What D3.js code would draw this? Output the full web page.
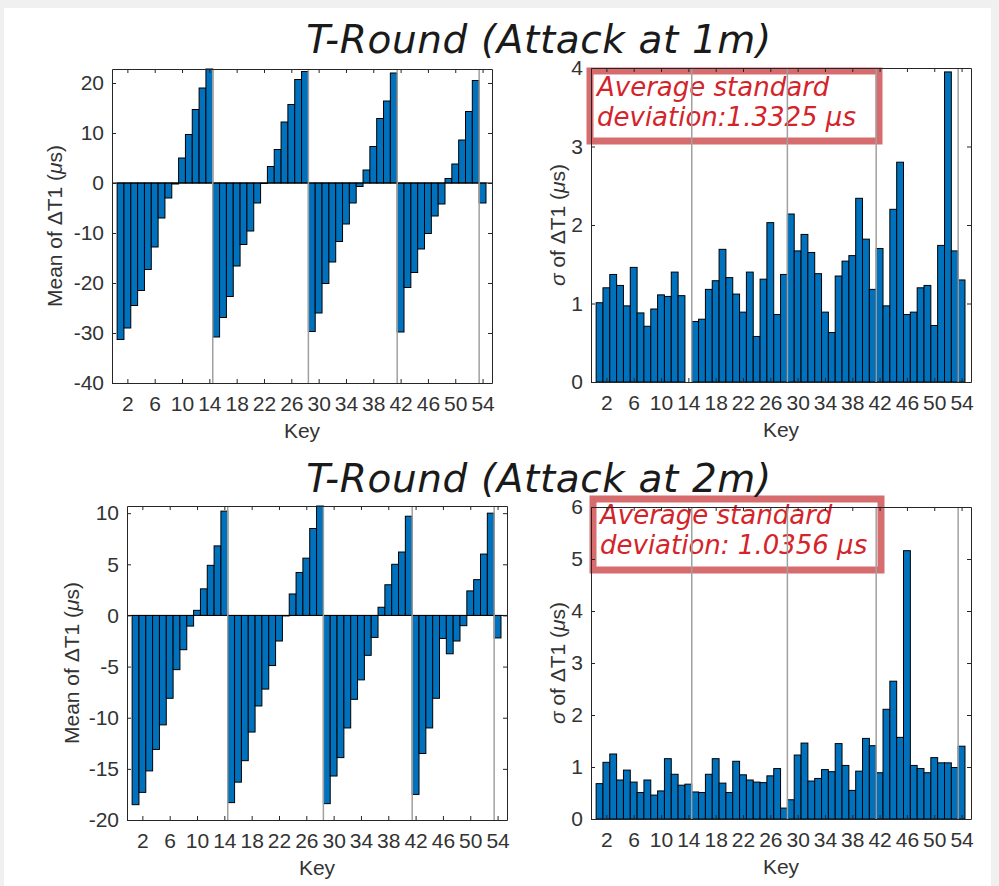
<!DOCTYPE html>
<html>
<head>
<meta charset="utf-8">
<script src="https://cdn.jsdelivr.net/npm/d3@7"></script>
<style>
  body { margin: 0; background: #f0f0f0; }
  svg { display: block; }
</style>
</head>
<body>
<svg id="chart" width="999" height="886"></svg>
<script>
// ---- DATA ----
const keys = d3.range(1, 55)
const xTicks = [2, 6, 10, 14, 18, 22, 26, 30, 34, 38, 42, 46, 50, 54]
const groupBreaks = [14.5, 28.5, 41.5, 53.5]

const mean1m = [-31.3, -29.0, -24.5, -21.5, -17.3, -12.8, -7.0, -3.0, -0.2, 5.0, 9.7, 14.7, 19.0, 22.8,
  -30.8, -26.9, -22.7, -16.6, -12.3, -9.6, -4.0, -0.1, 3.3, 6.7, 12.2, 15.7, 20.7, 22.3,
  -29.7, -26.0, -20.1, -15.8, -11.7, -8.2, -4.0, -0.7, 2.6, 7.3, 12.9, 16.4, 22.0,
  -29.8, -20.9, -17.9, -13.2, -10.1, -6.6, -4.2, 0.9, 3.8, 8.6, 14.3, 20.5,
  -4.0]
const sigma1m = [1.01, 1.20, 1.37, 1.23, 0.97, 1.46, 0.88, 0.71, 0.93, 1.11, 1.09, 1.40, 1.10, null,
  0.77, 0.80, 1.18, 1.29, 1.69, 1.33, 1.12, 0.89, 1.40, 0.58, 1.31, 2.03, 0.86, 1.37,
  2.14, 1.67, 1.88, 1.65, 1.38, 0.89, 0.63, 1.35, 1.54, 1.61, 2.34, 1.82, 1.18,
  1.70, 0.97, 2.20, 2.80, 0.86, 0.89, 1.20, 1.23, 0.72, 1.74, 3.95, 1.67,
  1.30]
const mean2m = [-18.5, -17.3, -15.2, -13.1, -10.7, -8.1, -5.3, -3.35, -1.04, 0.5, 2.6, 4.9, 6.8, 10.2,
  -18.3, -16.3, -14.2, -11.4, -8.85, -7.2, -4.9, -2.5, -0.05, 2.1, 4.2, 5.6, 8.5, 10.7,
  -18.4, -15.7, -13.9, -11.0, -8.2, -6.3, -3.9, -2.15, 0.8, 3.0, 5.0, 6.2, 9.7,
  -17.5, -13.5, -11.0, -8.1, -2.25, -3.75, -2.5, -1.0, 2.4, 3.5, 6.0, 10.0,
  -2.2]
const sigma2m = [0.68, 1.09, 1.25, 0.75, 0.94, 0.71, 0.51, 0.75, 0.46, 0.54, 1.16, 0.86, 0.65, 0.67,
  0.52, 0.51, 0.86, 1.16, 0.69, 0.51, 1.11, 0.85, 0.75, 0.71, 0.70, 0.83, 0.97, 0.21,
  0.37, 1.23, 1.46, 0.73, 0.78, 0.95, 0.91, 1.45, 1.03, 0.55, 0.92, 1.55, 1.41,
  0.89, 2.11, 2.65, 1.57, 5.16, 1.03, 0.97, 0.89, 1.18, 1.08, 1.08, 0.99,
  1.40]

const titles = ["T-Round (Attack at 1m)", "T-Round (Attack at 2m)"]
const notes1m = ["Average standard", "deviation:1.3325 \u03bcs"]
const notes2m = ["Average standard", "deviation: 1.0356 \u03bcs"]
const meanTicks1m = [-40, -30, -20, -10, 0, 10, 20]
const meanTicks2m = [-20, -15, -10, -5, 0, 5, 10]
const sigmaTicks1m = [0, 1, 2, 3, 4]
const sigmaTicks2m = [0, 1, 2, 3, 4, 5, 6]

// ---- CANVAS ----
const svg = d3.select("#chart")
svg.append("rect").attr("x", 4).attr("y", 8).attr("width", 987).attr("height", 878).attr("fill", "white")

const axisColor = "#262626"
const barColor = "#0072bd"
const lineColor = "#a0a0a0"
const xDomain = [-0.25, 55.38]
const plainNum = d => String(d)   // MATLAB uses a hyphen, not a unicode minus

function drawPanel(cfg) {
  const xScale = d3.scaleLinear().domain(xDomain).range([0, cfg.width])
  const yScale = d3.scaleLinear().domain(cfg.yDomain).range([cfg.height, 0])

  const g = svg.append("g").attr("transform", `translate(${cfg.left},${cfg.top})`)

  g.append("rect")
    .attr("width", cfg.width).attr("height", cfg.height)
    .attr("fill", "white")

  // annotation box sits under the grid lines
  if (cfg.note) {
    const nb = g.append("g")
    nb.append("rect")
      .attr("x", cfg.note.x).attr("y", cfg.note.y)
      .attr("width", cfg.note.w).attr("height", cfg.note.h)
      .attr("fill", "white")
      .attr("stroke", "rgb(214,108,110)")
      .attr("stroke-width", 7)
    nb.selectAll("text").data(cfg.note.lines).join("text")
      .attr("x", cfg.note.x + 7)
      .attr("y", (d, i) => cfg.note.y + 25 + i * 30)
      .attr("fill", "#d4242a")
      .style("font-family", "DejaVu Sans, Verdana, sans-serif")
      .style("font-style", "italic")
      .style("font-size", "26px")
      .text(d => d)
  }

  const y0 = yScale(Math.max(0, cfg.yDomain[0]))
  g.selectAll("rect.bar")
    .data(keys.map((k, i) => ({ k, v: cfg.values[i] })).filter(d => d.v !== null))
    .join("rect")
      .attr("class", "bar")
      .attr("x", d => xScale(d.k - 0.5))
      .attr("width", d => xScale(d.k + 0.5) - xScale(d.k - 0.5))
      .attr("y", d => Math.min(yScale(d.v), y0))
      .attr("height", d => Math.abs(yScale(d.v) - y0))
      .attr("fill", barColor)
      .attr("stroke", "black")
      .attr("stroke-width", 1)

  if (cfg.yDomain[0] < 0) {
    g.append("line")
      .attr("x1", 0).attr("x2", cfg.width)
      .attr("y1", y0).attr("y2", y0)
      .attr("stroke", "black").attr("stroke-width", 1)
  }

  g.selectAll("line.sep").data(groupBreaks).join("line")
    .attr("class", "sep")
    .attr("x1", d => xScale(d)).attr("x2", d => xScale(d))
    .attr("y1", 0).attr("y2", cfg.height)
    .attr("stroke", lineColor).attr("stroke-width", 1.5)

  // axes, ticks pointing inward, mirrored on top/right
  const xAxis = g.append("g")
    .attr("transform", `translate(0,${cfg.height})`)
    .call(d3.axisBottom(xScale).tickValues(xTicks).tickSizeInner(-4).tickSizeOuter(0).tickFormat(plainNum))
  const xAxisTop = g.append("g")
    .call(d3.axisTop(xScale).tickValues(xTicks).tickSizeInner(-4).tickSizeOuter(0).tickFormat(""))
  const yAxis = g.append("g")
    .call(d3.axisLeft(yScale).tickValues(cfg.yTicks).tickSizeInner(-4).tickSizeOuter(0).tickPadding(8).tickFormat(plainNum))
  const yAxisRight = g.append("g")
    .attr("transform", `translate(${cfg.width},0)`)
    .call(d3.axisRight(yScale).tickValues(cfg.yTicks).tickSizeInner(-4).tickSizeOuter(0).tickFormat(""))

  ;[xAxis, xAxisTop, yAxis, yAxisRight].forEach(a => {
    a.select(".domain").attr("stroke", axisColor)
    a.selectAll(".tick line").attr("stroke", axisColor)
    a.selectAll("text")
      .attr("fill", "#333")
      .style("font-family", "Liberation Sans, Arial, sans-serif")
      .style("font-size", "21px")
  })
  xAxis.selectAll("text").attr("dy", "0.71em").attr("y", 13)

  g.append("text")
    .attr("x", cfg.width / 2)
    .attr("y", cfg.height + 55)
    .attr("text-anchor", "middle")
    .attr("fill", "#333")
    .style("font-family", "Liberation Sans, Arial, sans-serif")
    .style("font-size", "21px")
    .text("Key")

  const yl = g.append("text")
    .attr("transform", `translate(${cfg.yLabelX},${cfg.height / 2}) rotate(-90)`)
    .attr("text-anchor", "middle")
    .attr("fill", "#333")
    .style("font-family", "Liberation Sans, Arial, sans-serif")
    .style("font-size", "21px")
  cfg.yLabel.forEach(part => {
    yl.append("tspan").style("font-style", part.italic ? "italic" : "normal").text(part.t)
  })
}

const meanLabel = [{ t: "Mean of \u0394T1 (" }, { t: "\u03bc", italic: true }, { t: "s)" }]
const sigmaLabel = [{ t: "\u03c3", italic: true }, { t: " of \u0394T1 (" }, { t: "\u03bc", italic: true }, { t: "s)" }]

drawPanel({ left: 112, top: 69, width: 380, height: 314, yDomain: [-40, 22.8], yTicks: meanTicks1m,
  values: mean1m, yLabel: meanLabel, yLabelX: -50 })
drawPanel({ left: 591, top: 68, width: 380, height: 314, yDomain: [0, 4], yTicks: sigmaTicks1m,
  values: sigma1m, yLabel: sigmaLabel, yLabelX: -26,
  note: { x: -1, y: 3, w: 289, h: 70, lines: notes1m } })
drawPanel({ left: 127, top: 506, width: 380, height: 314, yDomain: [-20, 10.7], yTicks: meanTicks2m,
  values: mean2m, yLabel: meanLabel, yLabelX: -48 })
drawPanel({ left: 591, top: 507, width: 380, height: 312, yDomain: [0, 6], yTicks: sigmaTicks2m,
  values: sigma2m, yLabel: sigmaLabel, yLabelX: -26,
  note: { x: 2, y: -8, w: 288, h: 71, lines: notes2m } })

svg.selectAll("text.title").data(titles).join("text")
  .attr("class", "title")
  .attr("x", 539)
  .attr("y", (d, i) => [53, 492][i])
  .attr("text-anchor", "middle")
  .attr("fill", "#1a1a1a")
  .style("font-family", "DejaVu Sans, Verdana, sans-serif")
  .style("font-style", "italic")
  .style("font-size", "39px")
  .style("letter-spacing", "0.6px")
  .text(d => d)
</script>
</body>
</html>
